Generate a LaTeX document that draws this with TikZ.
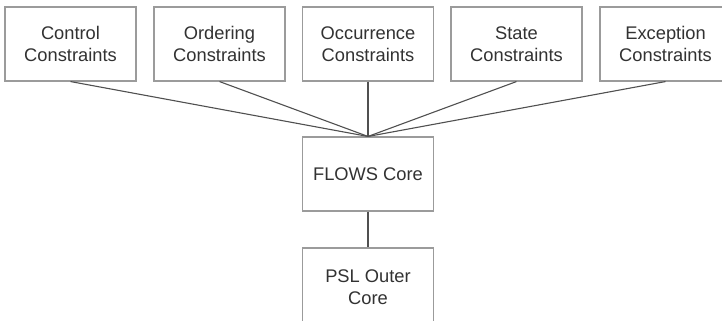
\documentclass[tikz,border=0pt]{standalone}
\usepackage{fontspec}
\setmainfont{Liberation Sans}
\definecolor{boxgray}{RGB}{155,155,155}
\definecolor{txtgray}{RGB}{50,50,50}
\definecolor{linegray}{RGB}{80,80,80}
\begin{document}
\begin{tikzpicture}[x=1pt,y=-1pt,
  box/.style={draw=boxgray, line width=1.1pt, minimum width=131pt, minimum height=74pt,
    inner sep=0pt, align=center, text=txtgray,
    font=\fontsize{18.3}{22.5}\selectfont},
  link/.style={draw=linegray, line width=1.1pt}]
\useasboundingbox (0,0) rectangle (722,321);
\fill[white] (0,0) rectangle (722,321);
\clip (0,0) rectangle (722,320.5);
\node[box] (a) at (70.5,44) {Control\\Constraints};
\node[box] (b) at (219.5,44) {Ordering\\Constraints};
\node[box] (c) at (368,44) {Occurrence\\Constraints};
\node[box] (d) at (516.5,44) {State\\Constraints};
\node[box] (e) at (665.5,44) {Exception\\Constraints};
\node[box] (f) at (368,174) {FLOWS Core};
\node[box, minimum height=78pt] (g) at (368,287) {PSL Outer\\Core};
\draw[link] (a.south) -- (f.north);
\draw[link] (b.south) -- (f.north);
\draw[link] (c.south) -- (f.north);
\draw[link] (d.south) -- (f.north);
\draw[link] (e.south) -- (f.north);
\draw[link] (f.south) -- (g.north);
\end{tikzpicture}
\end{document}
